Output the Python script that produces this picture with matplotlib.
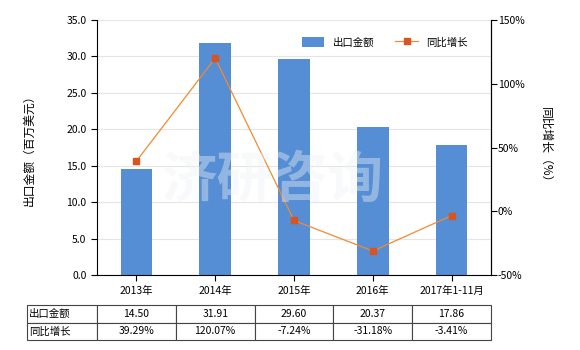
import matplotlib.pyplot as plt
from matplotlib.ticker import FuncFormatter

plt.rcParams['font.family'] = ['Noto Sans CJK SC', 'DejaVu Sans']

# データ
years = ["2013年", "2014年", "2015年", "2016年", "2017年1-11月"]
export_amount = [14.50, 31.91, 29.60, 20.37, 17.86]
yoy_growth = [39.29, 120.07, -7.24, -31.18, -3.41]

bar_color = "#558ed5"
line_color = "#f28a30"
marker_color = "#d9541e"

fig = plt.figure(figsize=(5.8, 3.5), dpi=100)
ax = fig.add_axes([97 / 580, 1 - 275 / 350, 394 / 580, 255 / 350])
ax2 = ax.twinx()

x = list(range(len(years)))
ax.bar(x, export_amount, width=0.4, color=bar_color, label="出口金额", zorder=2)
ax2.plot(x, yoy_growth, color=line_color, lw=0.9, marker="s", markersize=4,
         markerfacecolor=marker_color, markeredgecolor=marker_color,
         label="同比增长", zorder=3)

# 軸
ax.set_xlim(-0.5, len(years) - 0.5)
ax.set_ylim(0, 35)
ax.set_yticks([0, 5, 10, 15, 20, 25, 30, 35])
ax.yaxis.set_major_formatter(FuncFormatter(lambda v, p: f"{v:.1f}"))
ax2.set_ylim(-50, 150)
ax2.set_yticks([-50, 0, 50, 100, 150])
ax2.yaxis.set_major_formatter(FuncFormatter(lambda v, p: f"{v:.0f}%"))
ax.set_xticks(x)
ax.set_xticklabels(years, fontsize=7.5)
ax.tick_params(axis="y", labelsize=7.5, length=4, width=0.8)
ax.tick_params(axis="x", length=4, width=0.8, pad=4)
ax2.tick_params(axis="y", labelsize=7.5, length=4, width=0.8, pad=1)
ax.grid(axis="y", color="#e6e6e0", lw=0.8, zorder=0)
ax.set_axisbelow(True)
for a in (ax, ax2):
    a.spines["top"].set_visible(False)
ax2.spines["left"].set_visible(False)
ax2.spines["bottom"].set_visible(False)

ax.set_ylabel("出口金额（百万美元）", fontsize=8.5, labelpad=22)
ax2.set_ylabel("同比增长（%）", fontsize=8.5, rotation=-90, labelpad=20)

# 凡例
h1, l1 = ax.get_legend_handles_labels()
h2, l2 = ax2.get_legend_handles_labels()
ax.legend(h1 + h2, l1 + l2, loc="upper right", bbox_to_anchor=(0.965, 0.97),
          ncol=2, frameon=False, fontsize=7.5, handlelength=2.2,
          handleheight=1.1, columnspacing=2.0)

# 透かし
fig.text(0.47, 0.485, "济研咨询", fontsize=40, color="#eef2f4", alpha=0.4,
         ha="center", va="center", zorder=10, fontweight="bold")

# 表
cell_text = [["出口金额"] + [f"{v:.2f}" for v in export_amount],
             ["同比增长"] + [f"{v:.2f}%" for v in yoy_growth]]
first_w = 70 / 464
rest_w = (1 - first_w) / len(years)
tbl = ax.table(cellText=cell_text, colWidths=[first_w] + [rest_w] * len(years),
               bbox=[-70 / 394, -65 / 255, 464 / 394, 35 / 255], cellLoc="center")
tbl.auto_set_font_size(False)
tbl.set_fontsize(7.5)
for (r, c), cell in tbl.get_celld().items():
    cell.set_edgecolor("#444444")
    cell.set_linewidth(0.8)
    if c == 0:
        cell.set_text_props(ha="left")
        cell.PAD = 0.03

fig.savefig("out.png", dpi=100)
